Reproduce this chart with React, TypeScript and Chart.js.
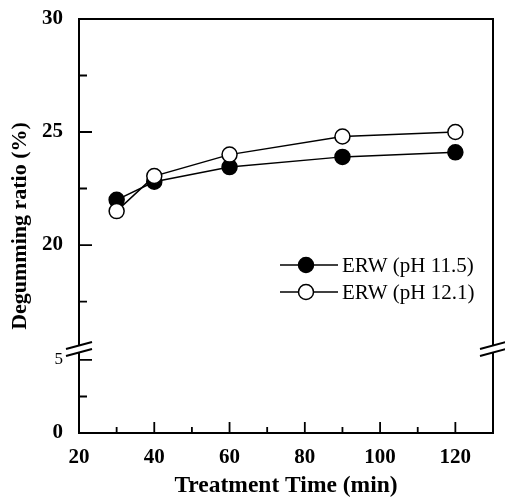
import React, { useEffect, useRef } from "react";
import { Chart, registerables } from "chart.js";

Chart.register(...registerables);

// ---- data ----
const treatmentTimes = [30, 40, 60, 90, 120];
const erw115 = [22.0, 22.8, 23.45, 23.9, 24.1];
const erw121 = [21.5, 23.05, 24.0, 24.8, 25.0];
const seriesNames = ["ERW (pH 11.5)", "ERW (pH 12.1)"];
const xTickValues = [20, 40, 60, 80, 100, 120];
const xMinorTicks = [30, 50, 70, 90, 110];
const yTickValues = [0, 5, 20, 25, 30];
const yTickLabels = ["0", "5", "20", "25", "30"];
const yMinorTicks = [2.5, 17.5, 22.5, 27.5];
const xTitle = "Treatment Time (min)";
const yTitle = "Degumming ratio (%)";

// broken axis: lower segment 0..LOW_MAX, upper HIGH_MIN..30
const LOW_MAX = 5.75;
const HIGH_MIN = 15.4;
const BREAK_AT = 84; // virtual units
const AXIS_TOP = 414;
const toAxis = (v: number) =>
  v <= LOW_MAX
    ? (v / LOW_MAX) * BREAK_AT
    : BREAK_AT + ((v - HIGH_MIN) / (30 - HIGH_MIN)) * (AXIS_TOP - BREAK_AT);

const FONT = "'Liberation Serif', 'Times New Roman', serif";

const framePlugin = {
  id: "frame",
  afterDatasetsDraw(chart: any) {
    const { ctx, chartArea } = chart;
    const xs = chart.scales.x;
    const ys = chart.scales.y;
    const { left, right, top, bottom } = chartArea;
    ctx.save();
    ctx.strokeStyle = "#000";
    ctx.lineWidth = 2;
    ctx.lineCap = "square";
    ctx.beginPath();
    ctx.moveTo(left, top);
    ctx.lineTo(right, top);
    ctx.lineTo(right, bottom);
    ctx.lineTo(left, bottom);
    ctx.closePath();
    ctx.stroke();
    ctx.lineCap = "butt";
    ctx.lineWidth = 1.8;
    ctx.beginPath();
    xTickValues.forEach((v) => {
      const px = xs.getPixelForValue(v);
      ctx.moveTo(px, bottom);
      ctx.lineTo(px, bottom - 11);
    });
    xMinorTicks.forEach((v) => {
      const px = xs.getPixelForValue(v);
      ctx.moveTo(px, bottom);
      ctx.lineTo(px, bottom - 6);
    });
    yTickValues.forEach((v) => {
      const py = ys.getPixelForValue(toAxis(v));
      ctx.moveTo(left, py);
      ctx.lineTo(left + 13, py);
    });
    yMinorTicks.forEach((v) => {
      const py = ys.getPixelForValue(toAxis(v));
      ctx.moveTo(left, py);
      ctx.lineTo(left + 8, py);
    });
    ctx.stroke();
    // break marks
    const by = ys.getPixelForValue(BREAK_AT);
    [left, right].forEach((ax) => {
      ctx.strokeStyle = "#fff";
      ctx.lineWidth = 4;
      ctx.beginPath();
      ctx.moveTo(ax, by - 3);
      ctx.lineTo(ax, by + 3);
      ctx.stroke();
      ctx.strokeStyle = "#000";
      ctx.lineWidth = 2;
      ctx.beginPath();
      [-3.5, 3.5].forEach((off) => {
        ctx.moveTo(ax - 13, by + off + 3.5);
        ctx.lineTo(ax + 13, by + off - 3.5);
      });
      ctx.stroke();
    });
    // legend
    const rows = [265, 292];
    const fills = ["#000", "#fff"];
    rows.forEach((ry, i) => {
      ctx.strokeStyle = "#000";
      ctx.lineWidth = 1.5;
      ctx.beginPath();
      ctx.moveTo(280, ry);
      ctx.lineTo(338, ry);
      ctx.stroke();
      ctx.beginPath();
      ctx.arc(306, ry, 7.5, 0, Math.PI * 2);
      ctx.fillStyle = fills[i];
      ctx.fill();
      ctx.stroke();
      ctx.fillStyle = "#000";
      ctx.font = `21px ${FONT}`;
      ctx.textAlign = "left";
      ctx.textBaseline = "middle";
      ctx.fillText(seriesNames[i], 342, ry + 1);
    });
    ctx.restore();
  },
};

export default function App() {
  const ref = useRef<HTMLCanvasElement>(null);
  useEffect(() => {
    document.body.style.margin = "0";
    const chart = new Chart(ref.current!, {
      type: "line",
      data: {
        datasets: [
          {
            label: seriesNames[0],
            data: treatmentTimes.map((t, i) => ({ x: t, y: toAxis(erw115[i]) })),
            borderColor: "#000",
            borderWidth: 1.5,
            backgroundColor: "#000",
            pointBackgroundColor: "#000",
            pointBorderColor: "#000",
            pointRadius: 7.5,
            pointBorderWidth: 1.5,
            order: 1,
          },
          {
            label: seriesNames[1],
            data: treatmentTimes.map((t, i) => ({ x: t, y: toAxis(erw121[i]) })),
            borderColor: "#000",
            borderWidth: 1.5,
            backgroundColor: "#fff",
            pointBackgroundColor: "#fff",
            pointBorderColor: "#000",
            pointRadius: 7.5,
            pointBorderWidth: 1.5,
            order: 0,
          },
        ],
      },
      options: {
        animation: false,
        responsive: false,
        layout: { padding: { top: 19, right: 12, left: 0, bottom: 0 } },
        plugins: { legend: { display: false }, tooltip: { enabled: false } },
        scales: {
          x: {
            type: "linear",
            min: 20,
            max: 130,
            grid: { display: false, drawTicks: false },
            border: { display: false },
            afterBuildTicks: (s: any) => {
              s.ticks = xTickValues.map((v) => ({ value: v }));
            },
            afterFit: (s: any) => {
              s.height = 65;
              s.paddingLeft = 0;
              s.paddingRight = 0;
            },
            ticks: {
              color: "#000",
              padding: 12,
              maxRotation: 0,
              font: { family: FONT, size: 21, weight: "bold" },
            },
            title: {
              display: true,
              text: xTitle,
              color: "#000",
              font: { family: FONT, size: 23.5, weight: "bold", lineHeight: 1 },
              padding: { top: 0, bottom: 0 },
            },
          },
          y: {
            type: "linear",
            min: 0,
            max: AXIS_TOP,
            grid: { display: false, drawTicks: false },
            border: { display: false },
            afterBuildTicks: (s: any) => {
              s.ticks = yTickValues.map((v) => ({ value: toAxis(v) }));
            },
            afterFit: (s: any) => {
              s.width = 79;
              s.paddingTop = 0;
              s.paddingBottom = 0;
            },
            ticks: {
              color: "#000",
              padding: 16,
              callback: (_v: any, i: number) => yTickLabels[i],
              font: (c: any) =>
                c.index === 1
                  ? { family: FONT, size: 17, weight: "normal" }
                  : { family: FONT, size: 21, weight: "bold" },
            },
            title: {
              display: true,
              text: yTitle,
              color: "#000",
              font: { family: FONT, size: 22, weight: "bold", lineHeight: 1 },
              padding: { top: 9, bottom: 0 },
            },
          },
        },
      },
      plugins: [framePlugin],
    });
    return () => chart.destroy();
  }, []);
  return (
    <div style={{ width: 505, height: 498, background: "#fff" }}>
      <canvas ref={ref} width={505} height={498} style={{ display: "block" }} />
    </div>
  );
}
